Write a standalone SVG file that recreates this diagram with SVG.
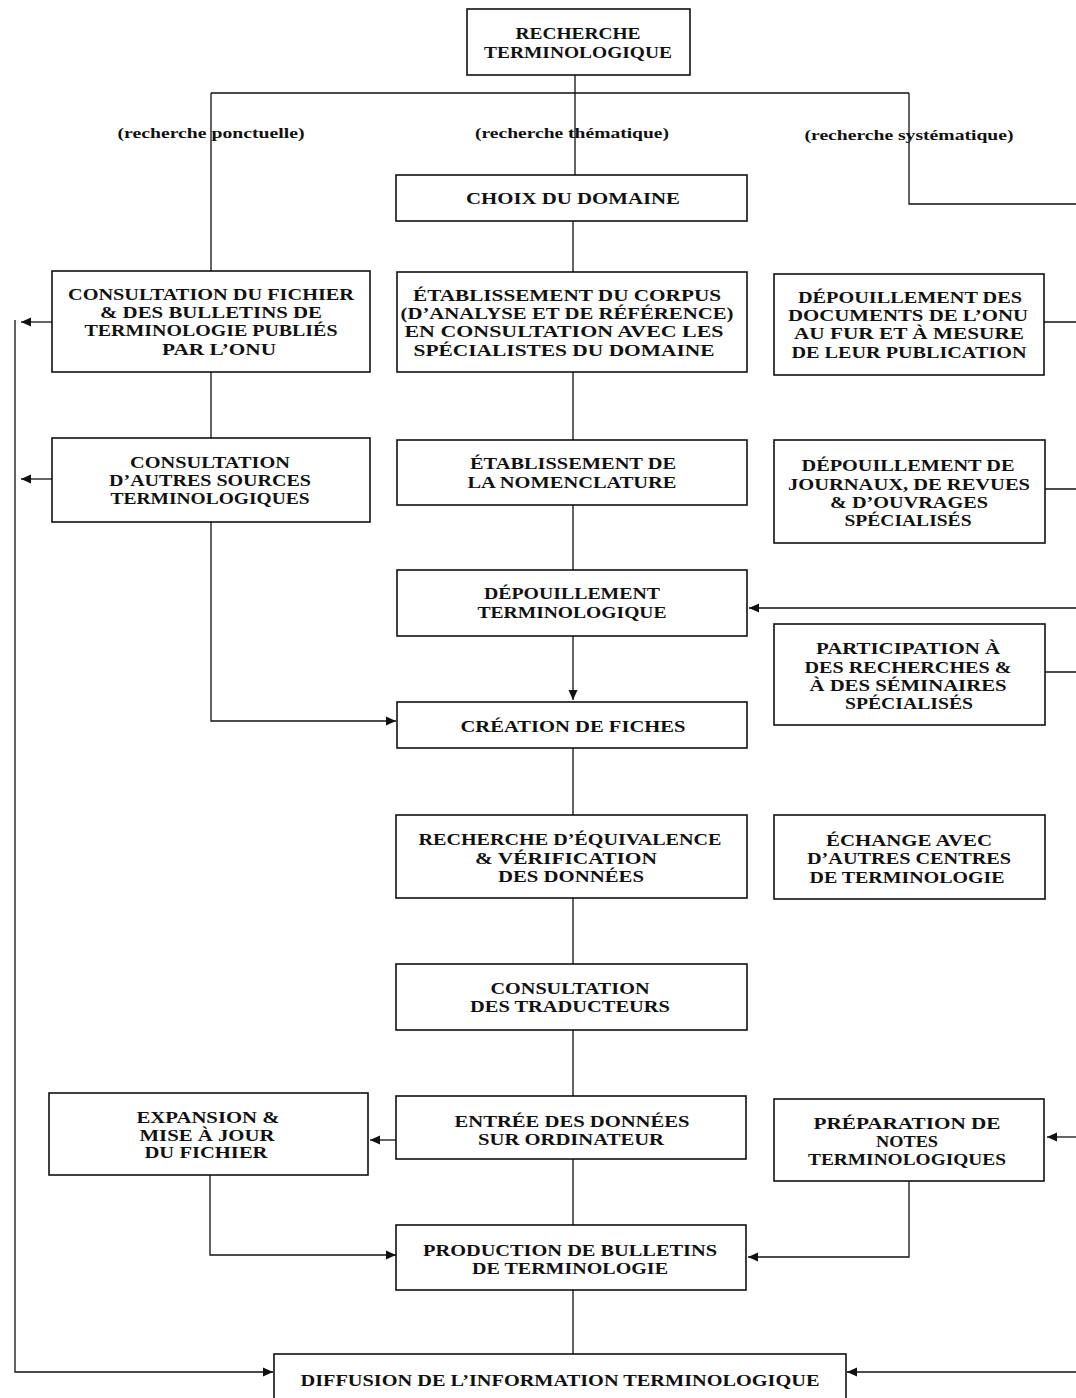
<svg xmlns="http://www.w3.org/2000/svg" width="1076" height="1398" viewBox="0 0 1076 1398">
<style>
rect{fill:#fff;stroke:#111;stroke-width:1.6}
text{font-family:"Liberation Serif","Times New Roman",serif;font-weight:bold;font-size:17px;fill:#111;text-anchor:middle}
.lbl{font-size:15px}
.c{fill:none;stroke:#111;stroke-width:1.3}
</style>
<defs>
<marker id="ah" markerUnits="userSpaceOnUse" markerWidth="11" markerHeight="10" refX="10" refY="5" orient="auto">
<path d="M0,0.5 L10,5 L0,9.5 z" fill="#111"/>
</marker>
</defs>
<rect x="0" y="0" width="1076" height="1398" style="fill:#fff;stroke:none"/>

<g id="connectors">
<path class="c" d="M575,75 V93 M211,93 H909 M211,93 V271 M575,93 V175 M909,93 V204 H1076"/>
<path class="c" d="M573,221 V272 M573,372 V440 M211,372 V438 M573,505 V570"/>
<path class="c" d="M52,322 H21" marker-end="url(#ah)"/>
<path class="c" d="M52,479 H21" marker-end="url(#ah)"/>
<path class="c" d="M1044,322 H1076 M1045,489 H1076 M1045,672 H1076"/>
<path class="c" d="M211,522 V721 H396" marker-end="url(#ah)"/>
<path class="c" d="M1076,608 H749" marker-end="url(#ah)"/>
<path class="c" d="M573,636 V700" marker-end="url(#ah)"/>
<path class="c" d="M573,748 V815 M573,898 V964 M573,1030 V1096"/>
<path class="c" d="M396,1140 H370" marker-end="url(#ah)"/>
<path class="c" d="M1076,1137 H1047" marker-end="url(#ah)"/>
<path class="c" d="M210,1175 V1255 H396" marker-end="url(#ah)"/>
<path class="c" d="M909,1181 V1257 H748" marker-end="url(#ah)"/>
<path class="c" d="M573,1159 V1225 M573,1290 V1354"/>
<path class="c" d="M15,320 V1372 H273" marker-end="url(#ah)"/>
<path class="c" d="M1076,1372 H847" marker-end="url(#ah)"/>
</g>

<g id="labels">
<text class="lbl" x="211" y="138" textLength="187" lengthAdjust="spacingAndGlyphs">(recherche ponctuelle)</text>
<text class="lbl" x="572" y="138" textLength="194" lengthAdjust="spacingAndGlyphs">(recherche thématique)</text>
<text class="lbl" x="909" y="140" textLength="209" lengthAdjust="spacingAndGlyphs">(recherche systématique)</text>
</g>

<g id="n-recherche">
<rect x="467" y="9" width="223" height="66"/>
<text x="578" y="39" textLength="125" lengthAdjust="spacingAndGlyphs">RECHERCHE</text>
<text x="578" y="58" textLength="188" lengthAdjust="spacingAndGlyphs">TERMINOLOGIQUE</text>
</g>

<g id="n-choix">
<rect x="396" y="175" width="351" height="46"/>
<text x="573" y="204" textLength="214" lengthAdjust="spacingAndGlyphs">CHOIX DU DOMAINE</text>
</g>

<g id="n-consult-fichier">
<rect x="52" y="271" width="318" height="101"/>
<text x="211" y="300" textLength="286" lengthAdjust="spacingAndGlyphs">CONSULTATION DU FICHIER</text>
<text x="211" y="318" textLength="222" lengthAdjust="spacingAndGlyphs">&amp; DES BULLETINS DE</text>
<text x="211" y="336" textLength="253" lengthAdjust="spacingAndGlyphs">TERMINOLOGIE PUBLIÉS</text>
<text x="219" y="355" textLength="114" lengthAdjust="spacingAndGlyphs">PAR L’ONU</text>
</g>

<g id="n-corpus">
<rect x="397" y="272" width="350" height="100"/>
<text x="567" y="301" textLength="308" lengthAdjust="spacingAndGlyphs">ÉTABLISSEMENT DU CORPUS</text>
<text x="567" y="319" textLength="333" lengthAdjust="spacingAndGlyphs">(D’ANALYSE ET DE RÉFÉRENCE)</text>
<text x="564" y="337" textLength="319" lengthAdjust="spacingAndGlyphs">EN CONSULTATION AVEC LES</text>
<text x="564" y="356" textLength="301" lengthAdjust="spacingAndGlyphs">SPÉCIALISTES DU DOMAINE</text>
</g>

<g id="n-depouil-docs">
<rect x="774" y="274" width="270" height="101"/>
<text x="910" y="303" textLength="224" lengthAdjust="spacingAndGlyphs">DÉPOUILLEMENT DES</text>
<text x="908" y="321" textLength="240" lengthAdjust="spacingAndGlyphs">DOCUMENTS DE L’ONU</text>
<text x="909" y="339" textLength="230" lengthAdjust="spacingAndGlyphs">AU FUR ET À MESURE</text>
<text x="909" y="358" textLength="235" lengthAdjust="spacingAndGlyphs">DE LEUR PUBLICATION</text>
</g>

<g id="n-autres-sources">
<rect x="52" y="438" width="318" height="84"/>
<text x="210" y="468" textLength="160" lengthAdjust="spacingAndGlyphs">CONSULTATION</text>
<text x="210" y="486" textLength="202" lengthAdjust="spacingAndGlyphs">D’AUTRES SOURCES</text>
<text x="210" y="504" textLength="199" lengthAdjust="spacingAndGlyphs">TERMINOLOGIQUES</text>
</g>

<g id="n-nomenclature">
<rect x="397" y="440" width="350" height="65"/>
<text x="573" y="469" textLength="206" lengthAdjust="spacingAndGlyphs">ÉTABLISSEMENT DE</text>
<text x="572" y="488" textLength="209" lengthAdjust="spacingAndGlyphs">LA NOMENCLATURE</text>
</g>

<g id="n-journaux">
<rect x="774" y="440" width="271" height="103"/>
<text x="908" y="471" textLength="213" lengthAdjust="spacingAndGlyphs">DÉPOUILLEMENT DE</text>
<text x="909" y="490" textLength="242" lengthAdjust="spacingAndGlyphs">JOURNAUX, DE REVUES</text>
<text x="909" y="508" textLength="158" lengthAdjust="spacingAndGlyphs">&amp; D’OUVRAGES</text>
<text x="908" y="526" textLength="127" lengthAdjust="spacingAndGlyphs">SPÉCIALISÉS</text>
</g>

<g id="n-depouil-term">
<rect x="397" y="570" width="350" height="66"/>
<text x="572" y="599" textLength="176" lengthAdjust="spacingAndGlyphs">DÉPOUILLEMENT</text>
<text x="572" y="618" textLength="189" lengthAdjust="spacingAndGlyphs">TERMINOLOGIQUE</text>
</g>

<g id="n-participation">
<rect x="774" y="624" width="271" height="101"/>
<text x="908" y="654" textLength="184" lengthAdjust="spacingAndGlyphs">PARTICIPATION À</text>
<text x="908" y="673" textLength="207" lengthAdjust="spacingAndGlyphs">DES RECHERCHES &amp;</text>
<text x="908" y="691" textLength="197" lengthAdjust="spacingAndGlyphs">À DES SÉMINAIRES</text>
<text x="909" y="709" textLength="128" lengthAdjust="spacingAndGlyphs">SPÉCIALISÉS</text>
</g>

<g id="n-fiches">
<rect x="397" y="702" width="350" height="46"/>
<text x="573" y="732" textLength="225" lengthAdjust="spacingAndGlyphs">CRÉATION DE FICHES</text>
</g>

<g id="n-equivalence">
<rect x="396" y="815" width="351" height="83"/>
<text x="570" y="845" textLength="303" lengthAdjust="spacingAndGlyphs">RECHERCHE D’ÉQUIVALENCE</text>
<text x="566" y="864" textLength="182" lengthAdjust="spacingAndGlyphs">&amp; VÉRIFICATION</text>
<text x="571" y="882" textLength="146" lengthAdjust="spacingAndGlyphs">DES DONNÉES</text>
</g>

<g id="n-echange">
<rect x="774" y="815" width="271" height="84"/>
<text x="909" y="846" textLength="166" lengthAdjust="spacingAndGlyphs">ÉCHANGE AVEC</text>
<text x="909" y="864" textLength="204" lengthAdjust="spacingAndGlyphs">D’AUTRES CENTRES</text>
<text x="907" y="883" textLength="195" lengthAdjust="spacingAndGlyphs">DE TERMINOLOGIE</text>
</g>

<g id="n-traducteurs">
<rect x="396" y="964" width="351" height="66"/>
<text x="570" y="994" textLength="159" lengthAdjust="spacingAndGlyphs">CONSULTATION</text>
<text x="570" y="1012" textLength="200" lengthAdjust="spacingAndGlyphs">DES TRADUCTEURS</text>
</g>

<g id="n-expansion">
<rect x="49" y="1093" width="319" height="82"/>
<text x="208" y="1123" textLength="143" lengthAdjust="spacingAndGlyphs">EXPANSION &amp;</text>
<text x="207" y="1141" textLength="135" lengthAdjust="spacingAndGlyphs">MISE À JOUR</text>
<text x="206" y="1158" textLength="123" lengthAdjust="spacingAndGlyphs">DU FICHIER</text>
</g>

<g id="n-entree">
<rect x="396" y="1096" width="350" height="63"/>
<text x="572" y="1127" textLength="235" lengthAdjust="spacingAndGlyphs">ENTRÉE DES DONNÉES</text>
<text x="571" y="1145" textLength="186" lengthAdjust="spacingAndGlyphs">SUR ORDINATEUR</text>
</g>

<g id="n-notes">
<rect x="774" y="1099" width="270" height="82"/>
<text x="907" y="1129" textLength="187" lengthAdjust="spacingAndGlyphs">PRÉPARATION DE</text>
<text x="907" y="1147" textLength="62" lengthAdjust="spacingAndGlyphs">NOTES</text>
<text x="907" y="1165" textLength="198" lengthAdjust="spacingAndGlyphs">TERMINOLOGIQUES</text>
</g>

<g id="n-production">
<rect x="396" y="1225" width="350" height="65"/>
<text x="570" y="1256" textLength="294" lengthAdjust="spacingAndGlyphs">PRODUCTION DE BULLETINS</text>
<text x="570" y="1274" textLength="196" lengthAdjust="spacingAndGlyphs">DE TERMINOLOGIE</text>
</g>

<g id="n-diffusion">
<rect x="274" y="1354" width="572" height="50"/>
<text x="560" y="1386" textLength="519" lengthAdjust="spacingAndGlyphs">DIFFUSION DE L’INFORMATION TERMINOLOGIQUE</text>
</g>
</svg>
